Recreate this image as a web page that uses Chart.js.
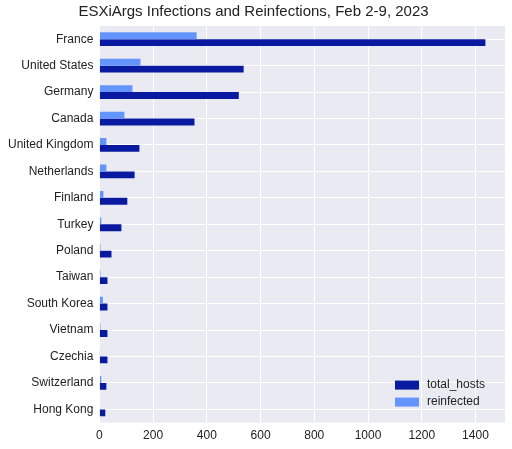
<!DOCTYPE html>
<html><head><meta charset="utf-8">
<script src="https://cdn.jsdelivr.net/npm/chart.js@4"></script>
<style>html,body{margin:0;background:#fff}#w{width:512px;height:449px}</style>
</head><body><div id="w"><canvas id="c"></canvas></div>
<script>
const categories=["France","United States","Germany","Canada","United Kingdom","Netherlands","Finland","Turkey","Poland","Taiwan","South Korea","Vietnam","Czechia","Switzerland","Hong Kong"];
const totalHosts=[1437,537,519,354,149,131,104,82,45,30,30,30,30,26,22];
const reinfected=[362,153,123,93,26,26,15,7,4,4,13,4,1,7,0];
const xTicks=[0,200,400,600,800,1000,1200,1400];
const F="'Liberation Sans', Arial, sans-serif";
const bg={id:'bg',beforeDraw(ch){const a=ch.chartArea,x=ch.ctx;x.save();x.fillStyle='#EAEAF2';x.fillRect(a.left,a.top,a.width,a.height);x.restore();}};
const leg={id:'leg',afterDraw(ch){const a=ch.chartArea,x=ch.ctx;x.save();x.font='12px '+F;x.textBaseline='middle';
 const items=[['total_hosts','#0A1AA0'],['reinfected','#6495FF']];
 items.forEach((it,i)=>{const y=a.bottom-38+i*17;x.fillStyle=it[1];x.fillRect(a.right-110,y-4,24,9);x.fillStyle='#222';x.fillText(it[0],a.right-78,y);});x.restore();}};
new Chart(document.getElementById('c'),{type:'bar',
data:{labels:categories,datasets:[
{label:'reinfected',data:reinfected,backgroundColor:'#6495FF'},
{label:'total_hosts',data:totalHosts,backgroundColor:'#0A1AA0'}]},
options:{indexAxis:'y',responsive:true,maintainAspectRatio:false,animation:false,
categoryPercentage:0.52,barPercentage:1,
layout:{padding:{right:7,top:0,left:2,bottom:0}},
plugins:{legend:{display:false},tooltip:{enabled:false},
title:{display:true,text:'ESXiArgs Infections and Reinfections, Feb 2-9, 2023',color:'#222',font:{family:F,size:15,weight:'normal'},padding:{top:3,bottom:5}}},
scales:{
x:{min:0,max:1510,afterBuildTicks(s){s.ticks=xTicks.map(v=>({value:v}));},
 grid:{color:'#fff',lineWidth:1,drawTicks:false},border:{display:false},
 ticks:{color:'#222',font:{family:F,size:12},padding:6,callback:v=>String(v)}},
y:{grid:{color:'#fff',drawTicks:false,offset:false},border:{display:false},
 ticks:{color:'#222',font:{family:F,size:12},padding:6}}}},
plugins:[bg,leg]});
</script></body></html>
